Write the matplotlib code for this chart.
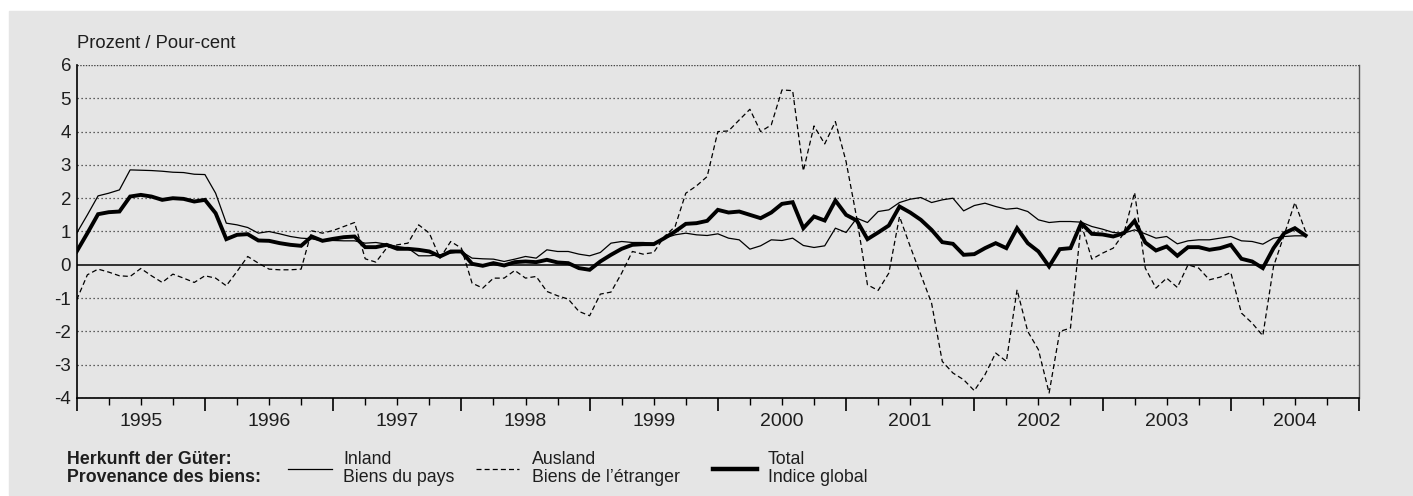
import matplotlib.pyplot as plt
import numpy as np
from matplotlib.patches import Rectangle
from matplotlib.lines import Line2D
import matplotlib.transforms as mtransforms

plt.rcParams['font.family'] = ['Liberation Sans', 'DejaVu Sans']

# Monatswerte Jan 1995 - Aug 2004, Veränderung gegenüber Vorjahr in %
inland = [0.95, 1.5, 2.07, 2.15, 2.25, 2.85, 2.84, 2.83, 2.81, 2.78, 2.77, 2.72,
          2.71, 2.15, 1.25, 1.2, 1.12, 0.95, 1.0, 0.93, 0.85, 0.8, 0.78, 0.72,
          0.73, 0.72, 0.72, 0.65, 0.67, 0.62, 0.55, 0.5, 0.27, 0.27, 0.3, 0.35,
          0.4, 0.2, 0.18, 0.17, 0.1, 0.17, 0.25, 0.2, 0.45, 0.4, 0.4, 0.32,
          0.27, 0.37, 0.65, 0.7, 0.67, 0.67, 0.65, 0.8, 0.9, 0.95, 0.9, 0.88,
          0.93, 0.8, 0.75, 0.47, 0.57, 0.75, 0.73, 0.8, 0.58, 0.52, 0.57, 1.1,
          0.97, 1.4, 1.27, 1.6, 1.65, 1.87, 1.97, 2.02, 1.87, 1.95, 2.0, 1.62,
          1.78, 1.85, 1.75, 1.67, 1.7, 1.6, 1.35, 1.27, 1.3, 1.3, 1.28, 1.15,
          1.07, 0.97, 0.95, 1.05, 0.93, 0.8, 0.85, 0.63, 0.72, 0.75, 0.75, 0.8,
          0.85, 0.72, 0.7, 0.62, 0.8, 0.85, 0.87, 0.87]

ausland = [-1.05, -0.3, -0.13, -0.22, -0.33, -0.35, -0.11, -0.33, -0.53, -0.28, -0.4, -0.53,
           -0.33, -0.4, -0.63, -0.2, 0.25, 0.05, -0.13, -0.15, -0.15, -0.13, 1.02, 0.95,
           1.03, 1.15, 1.27, 0.18, 0.08, 0.5, 0.6, 0.65, 1.2, 0.95, 0.2, 0.7,
           0.5, -0.55, -0.7, -0.4, -0.4, -0.17, -0.4, -0.35, -0.8, -0.93, -1.03, -1.4,
           -1.53, -0.88, -0.82, -0.25, 0.4, 0.32, 0.37, 0.85, 1.15, 2.15, 2.37, 2.65,
           4.0, 4.02, 4.35, 4.67, 4.0, 4.2, 5.25, 5.23, 2.82, 4.17, 3.63, 4.3,
           3.1, 1.4, -0.6, -0.77, -0.25, 1.45, 0.55, -0.3, -1.15, -2.9, -3.25, -3.45,
           -3.78, -3.3, -2.65, -2.9, -0.75, -2.0, -2.55, -3.85, -2.0, -1.9, 1.23, 0.17,
           0.35, 0.5, 0.95, 2.17, -0.1, -0.7, -0.4, -0.68, 0.0, -0.1, -0.45, -0.37,
           -0.23, -1.45, -1.75, -2.13, -0.05, 0.9, 1.87, 1.0]

total = [0.4, 0.95, 1.52, 1.58, 1.6, 2.05, 2.1, 2.05, 1.95, 2.0, 1.98, 1.9,
         1.95, 1.55, 0.77, 0.9, 0.92, 0.73, 0.72, 0.65, 0.6, 0.57, 0.85, 0.72,
         0.78, 0.83, 0.85, 0.53, 0.53, 0.6, 0.48, 0.48, 0.45, 0.4, 0.25, 0.4,
         0.4, 0.03, -0.03, 0.05, -0.02, 0.08, 0.1, 0.08, 0.15, 0.07, 0.05, -0.1,
         -0.15, 0.1, 0.3, 0.48, 0.6, 0.62, 0.62, 0.8, 1.0, 1.23, 1.25, 1.32,
         1.65, 1.57, 1.6, 1.5, 1.4, 1.57, 1.83, 1.88, 1.1, 1.45, 1.33, 1.93,
         1.5, 1.33, 0.77, 0.97, 1.18, 1.75, 1.57, 1.35, 1.05, 0.68, 0.63, 0.3,
         0.32, 0.5, 0.65, 0.5, 1.1, 0.65, 0.4, -0.05, 0.47, 0.5, 1.25, 0.93,
         0.91, 0.85, 0.95, 1.32, 0.67, 0.43, 0.55, 0.27, 0.53, 0.53, 0.45, 0.5,
         0.6, 0.18, 0.1, -0.1, 0.5, 0.95, 1.1, 0.88]

jahre = ['1995', '1996', '1997', '1998', '1999', '2000', '2001', '2002', '2003', '2004']
y_ticks = [6, 5, 4, 3, 2, 1, 0, -1, -2, -3, -4]

grau = '#e5e5e5'
txt = '#1e1e1e'

fig = plt.figure(figsize=(14.13, 4.96), dpi=100)
fig.patches.append(Rectangle((9 / 1413, 1 / 496), 1404 / 1413, 484 / 496,
                             transform=fig.transFigure, color=grau, zorder=-5))

ax = fig.add_axes([76.7 / 1413, 1 - 398 / 496, (1359 - 76.7) / 1413, 333 / 496])
ax.set_facecolor(grau)

monate = np.arange(len(total))
ax.plot(monate, inland, color='black', lw=0.9, zorder=3)
ax.plot(monate, ausland, color='black', lw=0.9, dashes=(4, 2.5), zorder=3)
ax.plot(monate, total, color='black', lw=2.8, zorder=4, solid_joinstyle='miter')

ax.set_xlim(0, 12 * len(jahre))
ax.set_ylim(-4, 6)

# Gitter
for v in y_ticks:
    if v == 0:
        ax.axhline(0, color='black', lw=1.1, zorder=2)
    elif v != 6:
        ax.axhline(v, color='#333333', lw=0.9, ls=(0, (1, 2.2)), zorder=1)
    else:
        ax.axhline(v, color='#444444', lw=1.0, ls=(0, (1, 1)), zorder=1)

ax.set_yticks(y_ticks)
ax.set_yticklabels([str(v) for v in y_ticks], fontsize=13.5, color=txt)
ax.tick_params(axis='y', length=0, pad=4)

ax.set_xticks(np.arange(0, 12 * len(jahre) + 1, 12))
ax.set_xticks(np.arange(0, 12 * len(jahre) + 1, 3), minor=True)
ax.set_xticklabels([])
ax.tick_params(axis='x', which='major', length=9, width=1.2, direction='out')
ax.tick_params(axis='x', which='minor', length=5, width=1.0, direction='out')

trans = mtransforms.blended_transform_factory(ax.transData, ax.transAxes)
for i, j in enumerate(jahre):
    ax.text(12 * i + 6, -0.072, j, transform=trans, ha='center', va='center',
            fontsize=14, color=txt)

for s in ['left', 'bottom']:
    ax.spines[s].set_color('black')
    ax.spines[s].set_linewidth(1.2)
ax.spines['right'].set_color('#555555')
ax.spines['right'].set_linewidth(1.0)
ax.spines['top'].set_visible(False)

fig.text(77 / 1413, 1 - 44 / 496, 'Prozent / Pour-cent', fontsize=13.2, color=txt,
         ha='left', va='center')

# Legende
y1 = 1 - 460 / 496
y2 = 1 - 477 / 496
ym = (y1 + y2) / 2
fig.text(67 / 1413, y1, 'Herkunft der Güter:', fontsize=12.8, fontweight='bold',
         color=txt, va='center')
fig.text(67 / 1413, y2, 'Provenance des biens:', fontsize=12.8, fontweight='bold',
         color=txt, va='center')

eintraege = [
    (288, 332, dict(lw=0.9), 'Inland', 'Biens du pays', 343),
    (476, 519, dict(lw=0.9, dashes=(4, 2.5)), 'Ausland', 'Biens de l\u2019étranger', 532),
    (713, 757, dict(lw=3.2), 'Total', 'Indice global', 768),
]
for x0, x1, st, t1, t2, xt in eintraege:
    fig.add_artist(Line2D([x0 / 1413, x1 / 1413], [ym, ym], color='black',
                          transform=fig.transFigure, **st))
    fig.text(xt / 1413, y1, t1, fontsize=12.8, color=txt, va='center')
    fig.text(xt / 1413, y2, t2, fontsize=12.8, color=txt, va='center')

fig.savefig('out.png', dpi=100, facecolor='white')
